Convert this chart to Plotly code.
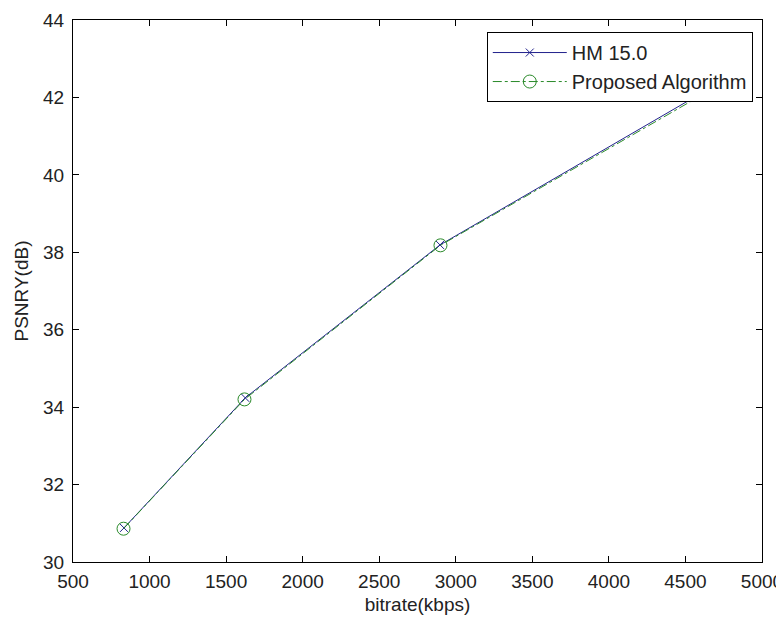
import plotly.graph_objects as go

hm_x = [833, 1625, 2897, 4800]
hm_y = [30.88, 34.24, 38.19, 42.56]
prop_x = [830, 1620, 2900, 4800]
prop_y = [30.86, 34.20, 38.18, 42.50]

x_ticks = [500, 1000, 1500, 2000, 2500, 3000, 3500, 4000, 4500, 5000]
y_ticks = [30, 32, 34, 36, 38, 40, 42, 44]

FONT = "Liberation Sans"

fig = go.Figure()
fig.add_trace(go.Scatter(
    x=hm_x, y=hm_y, mode="lines+markers", name="HM 15.0",
    line=dict(color="#22228c", width=1),
    marker=dict(symbol="x-thin-open", size=8, color="#22228c",
                line=dict(color="#22228c", width=1)),
))
fig.add_trace(go.Scatter(
    x=prop_x, y=prop_y, mode="lines+markers", name="Proposed Algorithm",
    line=dict(color="#2a8a2a", width=1, dash="dashdot"),
    marker=dict(symbol="circle-open", size=13, color="#2a8a2a",
                line=dict(color="#2a8a2a", width=1)),
))

axis_common = dict(
    showgrid=False, zeroline=False, showline=True, linecolor="black",
    linewidth=1, mirror="ticks", ticks="inside", ticklen=6, automargin=False,
    tickcolor="black", tickfont=dict(family=FONT, size=19, color="#222"),
)
fig.update_xaxes(range=[500, 5000], tickvals=x_ticks, ticklabelstandoff=2,
                 title=dict(text="bitrate(kbps)", standoff=6,
                            font=dict(family=FONT, size=19, color="#222")),
                 **axis_common)
fig.update_yaxes(range=[30, 44], tickvals=y_ticks, ticklabelstandoff=4,
                 title=dict(text="PSNRY(dB)", standoff=9,
                            font=dict(family=FONT, size=19, color="#222")),
                 **axis_common)

fig.update_layout(
    width=784, height=618,
    margin=dict(l=65, r=30, t=12, b=64),
    paper_bgcolor="white", plot_bgcolor="white",
    legend=dict(x=0.9866, y=0.9778, xanchor="right", yanchor="top",
                bgcolor="white", bordercolor="black", borderwidth=1,
                font=dict(family=FONT, size=20, color="#222"),
                itemwidth=74, tracegroupgap=0),
    showlegend=True,
)

fig.write_html("out.html")
